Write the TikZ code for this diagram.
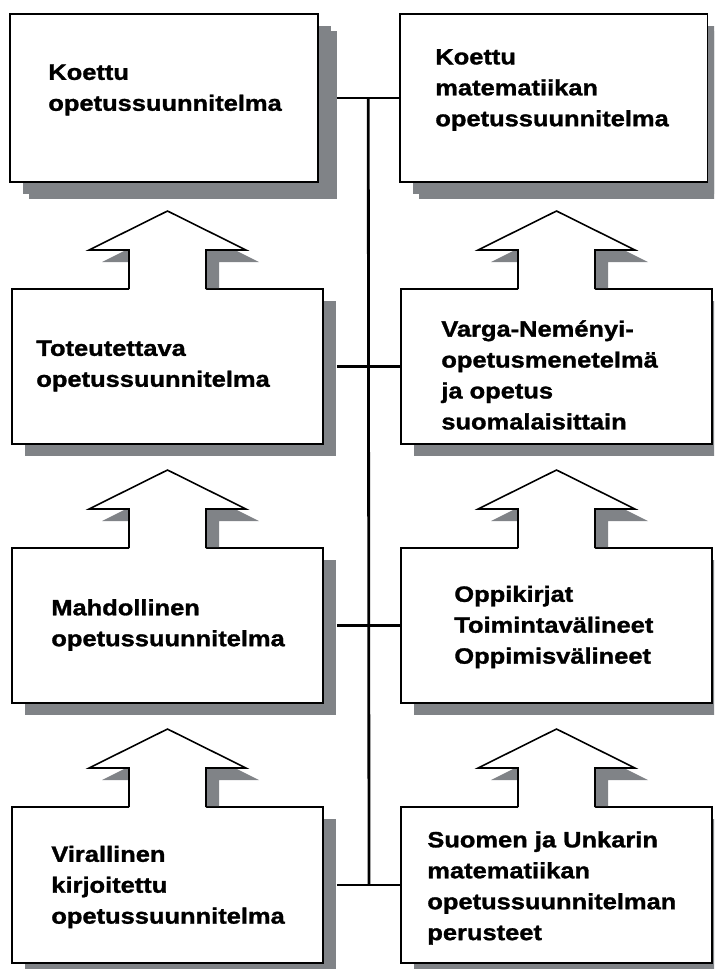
\documentclass[tikz,border=0pt]{standalone}
\usepackage{fontspec}
\newfontfamily\boxfont{Liberation Sans}[FakeStretch=1.15, BoldFeatures={FakeBold=1.3}]
\usetikzlibrary{calc}
\usetikzlibrary{shadows}
\definecolor{shadowgray}{RGB}{128,131,135}

\tikzset{
  kader/.style={draw=black, fill=white, line width=1.1pt, inner sep=0pt, outer sep=0pt,
    minimum width=6.22cm, minimum height=3.1cm,
    general shadow={fill=shadowgray, shadow xshift=0.26cm, shadow yshift=-0.24cm}},
  bovenkader/.style={kader, minimum width=6.16cm, minimum height=3.36cm,
    general shadow={fill=shadowgray, shadow xshift=0.38cm, shadow yshift=-0.34cm}},
  tekst/.style={anchor=west, align=left, inner sep=0pt,
    font=\boxfont\bfseries\fontsize{12.6}{17.6}\selectfont},
  lijn/.style={line width=1.6pt},
  pijllijn/.style={line width=0.9pt, line join=miter}
}

% pijl naar boven, op de bovenrand van een kader
\newcommand{\pijl}[1]{%
  \fill[shadowgray] ($(#1.north)+(-25.5,-1)$) -- ++(0,-26) -- ++(-40,0) -- ++(78.5,-39)
    -- ++(78.5,39) -- ++(-40,0) -- ++(0,26) -- cycle;
  \fill[white] ($(#1.north)+(-38.5,1)$) -- ++(0,-40) -- ++(-40,0) -- ++(78.5,-39)
    -- ++(78.5,39) -- ++(-40,0) -- ++(0,40) -- cycle;
  \draw[pijllijn] ($(#1.north)+(-38.5,0)$) -- ++(0,-39) -- ++(-40,0) -- ++(78.5,-39)
    -- ++(78.5,39) -- ++(-40,0) -- ++(0,39);
}

\begin{document}
\begin{tikzpicture}[line cap=butt,x=0.02cm,y=-0.02cm]
\useasboundingbox (0,0) rectangle (714,969);
\clip (0,0) rectangle (714,969);

% kaders
\node[bovenkader] (L1) at (164,98) {};
\node[bovenkader] (R1) at (553.5,98) {};
\node[kader] (L2) at (167.5,366.5) {};
\node[kader] (R2) at (556.5,366.5) {};
\node[kader] (L3) at (167.5,625.5) {};
\node[kader] (R3) at (556.5,625.5) {};
\node[kader, minimum height=3.12cm] (L4) at (167.5,885) {};
\node[kader, minimum height=3.12cm] (R4) at (556.5,885) {};

% pijlen
\foreach \r in {2,3,4} {\pijl{L\r} \pijl{R\r}}

% verbindingen
\draw[lijn] ($(L1.east)+(19,0)$) -- coordinate (m1) (R1.west);
\foreach \r in {2,3,4}
  \draw[lijn] ($(L\r.east)+(14,0)$) -- coordinate (m\r) (R\r.west);
\draw[lijn] (m1) -- (m4);

% teksten
\node[tekst] (tL1) at (48,90) {Koettu\\opetussuunnitelma};
\node[tekst] (tR1) at (435,90) {Koettu\\matematiikan\\opetussuunnitelma};
\node[tekst] (tL2) at (36,366) {Toteutettava\\opetussuunnitelma};
\node[tekst] (tR2) at (441,375) {Varga-Neményi-\\opetusmenetelmä\\ja opetus\\suomalaisittain};
\node[tekst] (tL3) at (51,625) {Mahdollinen\\opetussuunnitelma};
\node[tekst] (tR3) at (454,627) {Oppikirjat\\Toimintavälineet\\Oppimisvälineet};
\node[tekst] (tL4) at (51,887) {Virallinen\\kirjoitettu\\opetussuunnitelma};
\node[tekst] (tR4) at (427,888) {Suomen ja Unkarin\\matematiikan\\opetussuunnitelman\\perusteet};
\end{tikzpicture}
\end{document}
